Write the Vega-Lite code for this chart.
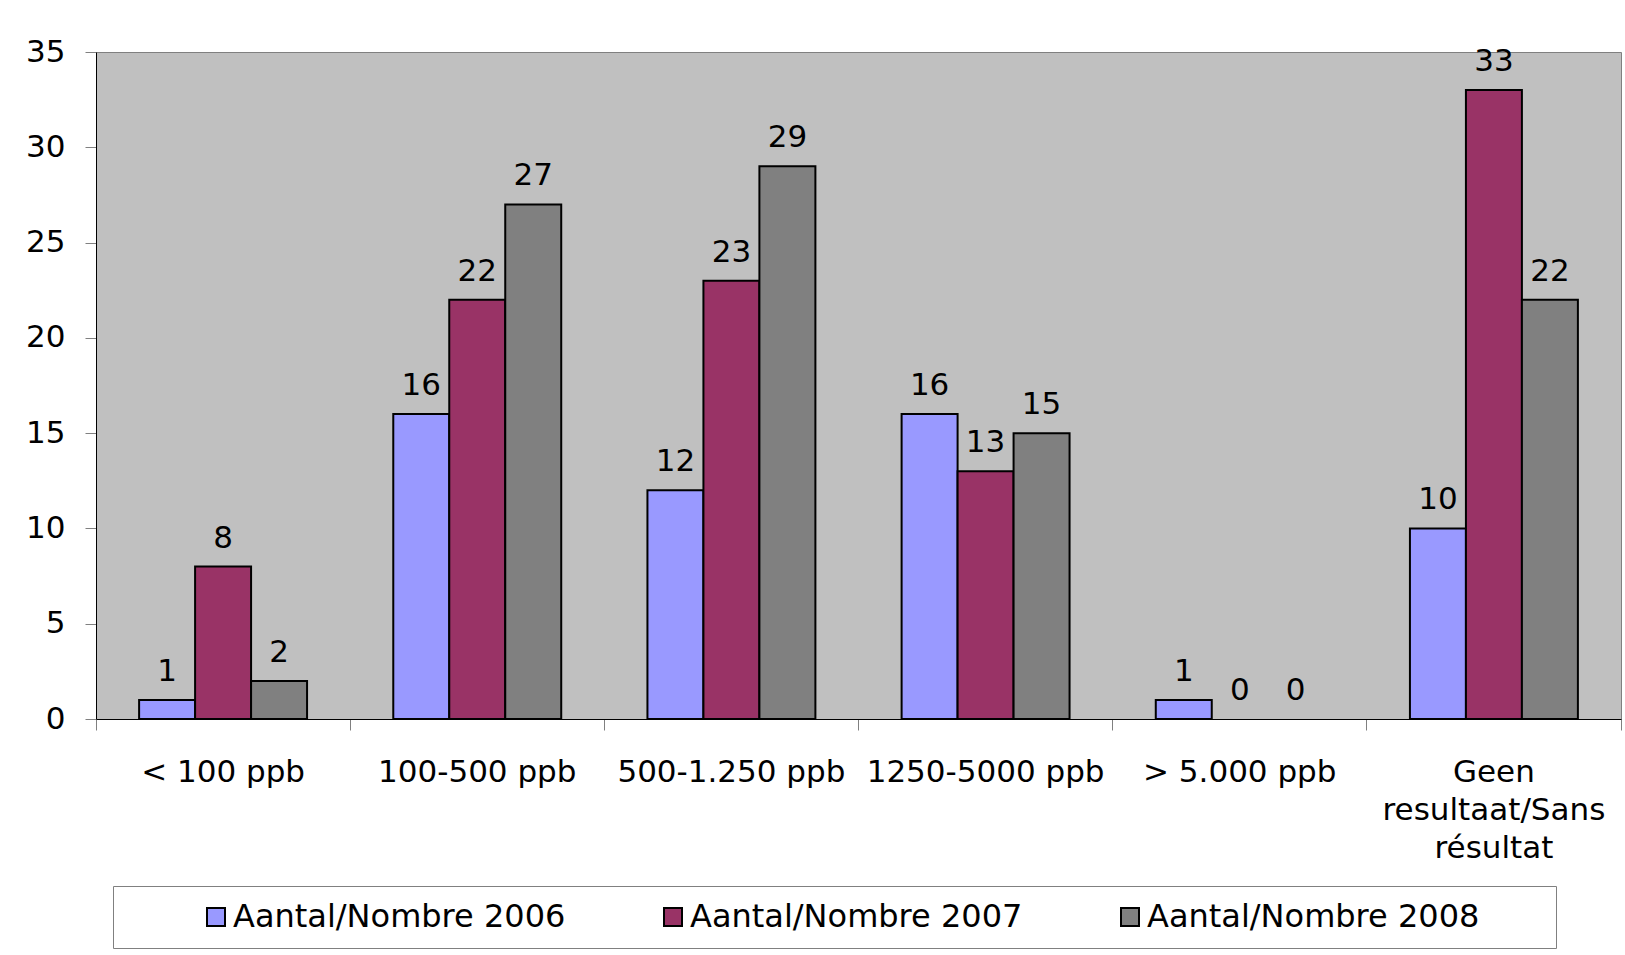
{
  "$schema": "https://vega.github.io/schema/vega-lite/v6.json",
  "width": 1525,
  "height": 667,
  "autosize": {"type": "none"},
  "padding": {"left": 96, "top": 52, "right": 4, "bottom": 236},
  "background": "white",
  "config": {
    "font": "DejaVu Sans",
    "view": {"fill": "#C0C0C0", "stroke": "#808080", "strokeWidth": 1}
  },
  "data": {
    "values": [
      {"cat": "< 100 ppb", "series": "Aantal/Nombre 2006", "value": 1},
      {"cat": "< 100 ppb", "series": "Aantal/Nombre 2007", "value": 8},
      {"cat": "< 100 ppb", "series": "Aantal/Nombre 2008", "value": 2},
      {"cat": "100-500 ppb", "series": "Aantal/Nombre 2006", "value": 16},
      {"cat": "100-500 ppb", "series": "Aantal/Nombre 2007", "value": 22},
      {"cat": "100-500 ppb", "series": "Aantal/Nombre 2008", "value": 27},
      {"cat": "500-1.250 ppb", "series": "Aantal/Nombre 2006", "value": 12},
      {"cat": "500-1.250 ppb", "series": "Aantal/Nombre 2007", "value": 23},
      {"cat": "500-1.250 ppb", "series": "Aantal/Nombre 2008", "value": 29},
      {"cat": "1250-5000 ppb", "series": "Aantal/Nombre 2006", "value": 16},
      {"cat": "1250-5000 ppb", "series": "Aantal/Nombre 2007", "value": 13},
      {"cat": "1250-5000 ppb", "series": "Aantal/Nombre 2008", "value": 15},
      {"cat": "> 5.000 ppb", "series": "Aantal/Nombre 2006", "value": 1},
      {"cat": "> 5.000 ppb", "series": "Aantal/Nombre 2007", "value": 0},
      {"cat": "> 5.000 ppb", "series": "Aantal/Nombre 2008", "value": 0},
      {"cat": "Geen resultaat/Sans résultat", "series": "Aantal/Nombre 2006", "value": 10},
      {"cat": "Geen resultaat/Sans résultat", "series": "Aantal/Nombre 2007", "value": 33},
      {"cat": "Geen resultaat/Sans résultat", "series": "Aantal/Nombre 2008", "value": 22}
    ]
  },
  "encoding": {
    "x": {
      "field": "cat",
      "type": "nominal",
      "sort": null,
      "scale": {"paddingInner": 0, "paddingOuter": 0},
      "axis": {
        "title": null,
        "labelAngle": 0,
        "bandPosition": 1,
        "tickExtra": true,
        "tickSize": 11,
        "tickColor": "#808080",
        "domainColor": "black",
        "labelPadding": 27,
        "labelFontSize": 31,
        "labelColor": "black",
        "labelBaseline": "top",
        "labelLineHeight": 38,
        "labelLimit": 0,
        "labelOverlap": false,
        "labelExpr": "datum.label == 'Geen resultaat/Sans résultat' ? ['Geen', 'resultaat/Sans', 'résultat'] : datum.label"
      }
    },
    "xOffset": {
      "field": "series",
      "type": "nominal",
      "sort": null,
      "scale": {"paddingInner": 0, "paddingOuter": 0.77}
    },
    "y": {
      "field": "value",
      "type": "quantitative",
      "scale": {"domain": [0, 35]},
      "axis": {
        "title": null,
        "grid": false,
        "values": [0, 5, 10, 15, 20, 25, 30, 35],
        "domainColor": "black",
        "tickColor": "#808080",
        "tickSize": 11,
        "labelPadding": 20,
        "labelFontSize": 31,
        "labelColor": "black"
      }
    }
  },
  "layer": [
    {
      "transform": [{"filter": "datum.value > 0"}],
      "mark": {"type": "bar", "stroke": "black", "strokeWidth": 2, "opacity": 1},
      "encoding": {
        "color": {
          "field": "series",
          "type": "nominal",
          "scale": {
            "domain": ["Aantal/Nombre 2006", "Aantal/Nombre 2007", "Aantal/Nombre 2008"],
            "range": ["#9999FF", "#993366", "#808080"]
          },
          "legend": {
            "orient": "none",
            "legendX": 17,
            "legendY": 834,
            "direction": "horizontal",
            "title": "\u00a0",
            "titleOrient": "left",
            "titlePadding": 72,
            "titleFontSize": 31,
            "padding": 15,
            "strokeColor": "#808080",
            "fillColor": "white",
            "symbolType": "square",
            "symbolSize": 324,
            "symbolStrokeColor": "black",
            "symbolStrokeWidth": 2,
            "symbolOpacity": 1,
            "labelFontSize": 32,
            "labelColor": "black",
            "labelOffset": 1,
            "columnPadding": 91,
            "labelLimit": 0,
            "labelExpr": "datum.label == 'Aantal/Nombre 2008' ? datum.label + '\u00a0\u00a0\u00a0\u00a0\u00a0\u00a0\u200b' : datum.label"
          }
        }
      }
    },
    {
      "mark": {"type": "text", "dy": -19, "fontSize": 31, "color": "black", "baseline": "alphabetic"},
      "encoding": {"text": {"field": "value", "type": "quantitative"}}
    }
  ]
}
